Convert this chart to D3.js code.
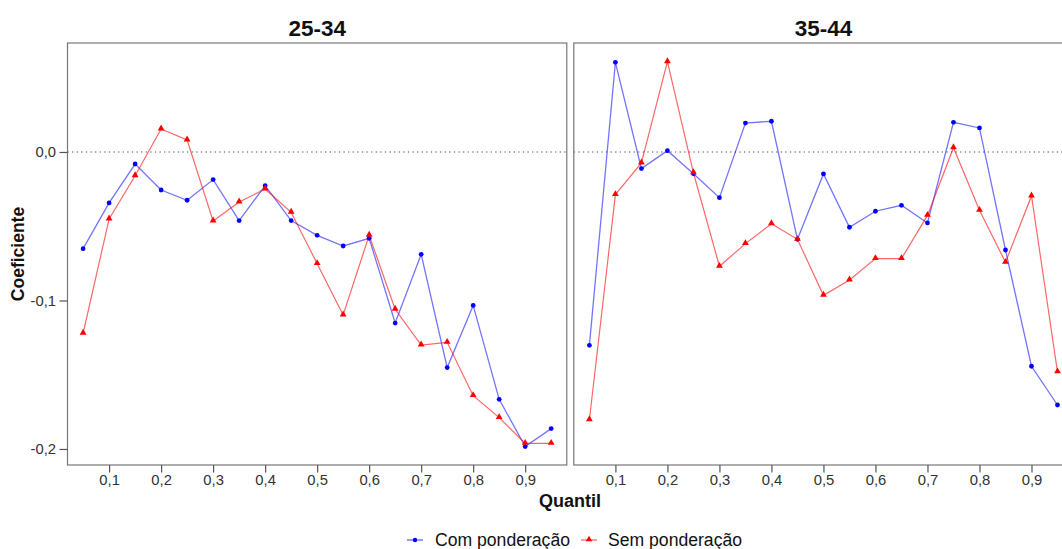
<!DOCTYPE html>
<html>
<head>
<meta charset="utf-8">
<script src="https://cdn.jsdelivr.net/npm/d3@7"></script>
<style>
  html, body { margin: 0; padding: 0; background: #fff; }
  svg { display: block; font-family: "Liberation Sans", Arial, sans-serif; }
</style>
</head>
<body>
<svg id="chart" width="1062" height="549"></svg>
<script>
// Quantile regression coefficients by age group
const quantis = [0.05, 0.10, 0.15, 0.20, 0.25, 0.30, 0.35, 0.40, 0.45, 0.50,
                 0.55, 0.60, 0.65, 0.70, 0.75, 0.80, 0.85, 0.90, 0.95];
const faixas = ["25-34", "35-44"];
const seriesNomes = ["Com ponderação", "Sem ponderação"];

const com_25_34 = [-0.0651, -0.0343, -0.0081, -0.0256, -0.0325, -0.0186, -0.0462, -0.0227, -0.0462, -0.0561,
                   -0.0633, -0.0581, -0.1152, -0.0689, -0.1452, -0.1033, -0.1666, -0.1984, -0.1863];
const sem_25_34 = [-0.1221, -0.0451, -0.0160, 0.0155, 0.0081, -0.0465, -0.0337, -0.0249, -0.0406, -0.0752,
                   -0.1098, -0.0561, -0.1059, -0.1300, -0.1282, -0.1641, -0.1789, -0.1962, -0.1962];
const com_35_44 = [-0.1302, 0.0604, -0.0112, 0.0009, -0.0146, -0.0308, 0.0195, 0.0207, -0.0588, -0.0148,
                   -0.0507, -0.0399, -0.0359, -0.0478, 0.0200, 0.0162, -0.0660, -0.1443, -0.1704];
const sem_35_44 = [-0.1803, -0.0287, -0.0074, 0.0608, -0.0140, -0.0770, -0.0617, -0.0483, -0.0588, -0.0965,
                   -0.0862, -0.0718, -0.0718, -0.0427, 0.0029, -0.0393, -0.0743, -0.0296, -0.1481];

const xTicks = [0.1, 0.2, 0.3, 0.4, 0.5, 0.6, 0.7, 0.8, 0.9];
const yTicks = [0.0, -0.1, -0.2];

const painelDados = [
  { faixa: faixas[0], com: com_25_34, sem: sem_25_34 },
  { faixa: faixas[1], com: com_35_44, sem: sem_35_44 }
];

const cores = { com: "#0000ff", sem: "#ff0000" };

const locale = d3.formatLocale({ decimal: ",", thousands: ".", grouping: [3], currency: ["R$", ""], minus: "-" });
const fmt = locale.format(".1f");

const svg = d3.select("#chart");
const plotTop = 43, plotBottom = 465;
const panelW = 499.3, gap = 7;
const left0 = 67.5;
const tickFont = "14.8px";

const y = d3.scaleLinear().domain([-0.2108, 0.0734]).range([plotBottom, plotTop]);

painelDados.forEach((p, i) => {
  const x0 = left0 + i * (panelW + gap);
  const x = d3.scaleLinear().domain([0.02, 0.98]).range([x0, x0 + panelW]);
  const g = svg.append("g");

  // zero reference line
  g.append("line")
    .attr("x1", x0).attr("x2", x0 + panelW)
    .attr("y1", y(0)).attr("y2", y(0))
    .attr("stroke", "#444").attr("stroke-width", 1.1)
    .attr("stroke-dasharray", "1.2,3.4");

  // series
  const linha = d3.line().x((d, k) => x(quantis[k])).y(d => y(d));
  g.append("path").datum(p.com).attr("d", linha)
    .attr("fill", "none").attr("stroke", cores.com).attr("stroke-opacity", 0.55).attr("stroke-width", 1.3);
  g.append("path").datum(p.sem).attr("d", linha)
    .attr("fill", "none").attr("stroke", cores.sem).attr("stroke-opacity", 0.6).attr("stroke-width", 1.2);

  g.selectAll(".pt-com").data(p.com).join("circle")
    .attr("cx", (d, k) => x(quantis[k])).attr("cy", d => y(d))
    .attr("r", 2.4).attr("fill", cores.com);
  const tri = d3.symbol().type(d3.symbolTriangle).size(20);
  g.selectAll(".pt-sem").data(p.sem).join("path")
    .attr("d", tri)
    .attr("transform", (d, k) => `translate(${x(quantis[k])},${y(d) - 0.5})`)
    .attr("fill", cores.sem);

  // panel border
  g.append("rect")
    .attr("x", x0).attr("y", plotTop).attr("width", panelW).attr("height", plotBottom - plotTop)
    .attr("fill", "none").attr("stroke", "#777").attr("stroke-width", 1.2);

  // x axis
  const ax = g.append("g").attr("transform", `translate(0,${plotBottom})`)
    .call(d3.axisBottom(x).tickValues(xTicks).tickSize(7.5).tickPadding(2).tickFormat(fmt));
  ax.select(".domain").remove();
  ax.selectAll(".tick line").attr("stroke", "#555").attr("stroke-width", 1.2);
  ax.selectAll(".tick text").attr("fill", "#333").style("font-size", tickFont)
    .style("font-family", "'Liberation Sans', Arial, sans-serif");

  // y axis on the first panel only
  if (i === 0) {
    const ay = g.append("g").attr("transform", `translate(${x0},0)`)
      .call(d3.axisLeft(y).tickValues(yTicks).tickSize(8).tickPadding(3.5).tickFormat(fmt));
    ay.select(".domain").remove();
    ay.selectAll(".tick line").attr("stroke", "#555").attr("stroke-width", 1.2);
    ay.selectAll(".tick text").attr("fill", "#333").style("font-size", tickFont)
      .style("font-family", "'Liberation Sans', Arial, sans-serif");
  }

  // panel title
  g.append("text")
    .attr("x", x0 + panelW / 2).attr("y", 35.5)
    .attr("text-anchor", "middle")
    .style("font-size", "22.5px").style("font-weight", "bold").attr("fill", "#111")
    .text(p.faixa);
});

// axis titles
svg.append("text")
  .attr("x", 570).attr("y", 507)
  .attr("text-anchor", "middle")
  .style("font-size", "18px").style("font-weight", "bold").attr("fill", "#111")
  .text("Quantil");

svg.append("text")
  .attr("transform", "translate(24,254) rotate(-90)")
  .attr("text-anchor", "middle")
  .style("font-size", "17.5px").style("font-weight", "bold").attr("fill", "#111")
  .text("Coeficiente");

// legend
const legenda = svg.append("g");
const itens = [
  { nome: seriesNomes[0], cor: cores.com, cx: 415, tx: 435, tipo: "circulo" },
  { nome: seriesNomes[1], cor: cores.sem, cx: 589, tx: 608, tipo: "triangulo" }
];
itens.forEach(it => {
  legenda.append("line")
    .attr("x1", it.cx - 8).attr("x2", it.cx + 8).attr("y1", 540).attr("y2", 540)
    .attr("stroke", it.cor).attr("stroke-opacity", 0.6).attr("stroke-width", 1.3);
  if (it.tipo === "circulo") {
    legenda.append("circle").attr("cx", it.cx).attr("cy", 540).attr("r", 2.2).attr("fill", it.cor);
  } else {
    legenda.append("path").attr("d", d3.symbol().type(d3.symbolTriangle).size(18))
      .attr("transform", `translate(${it.cx},539.5)`).attr("fill", it.cor);
  }
  legenda.append("text")
    .attr("x", it.tx).attr("y", 546)
    .style("font-size", "17.6px").attr("fill", "#111")
    .text(it.nome);
});
</script>
</body>
</html>
